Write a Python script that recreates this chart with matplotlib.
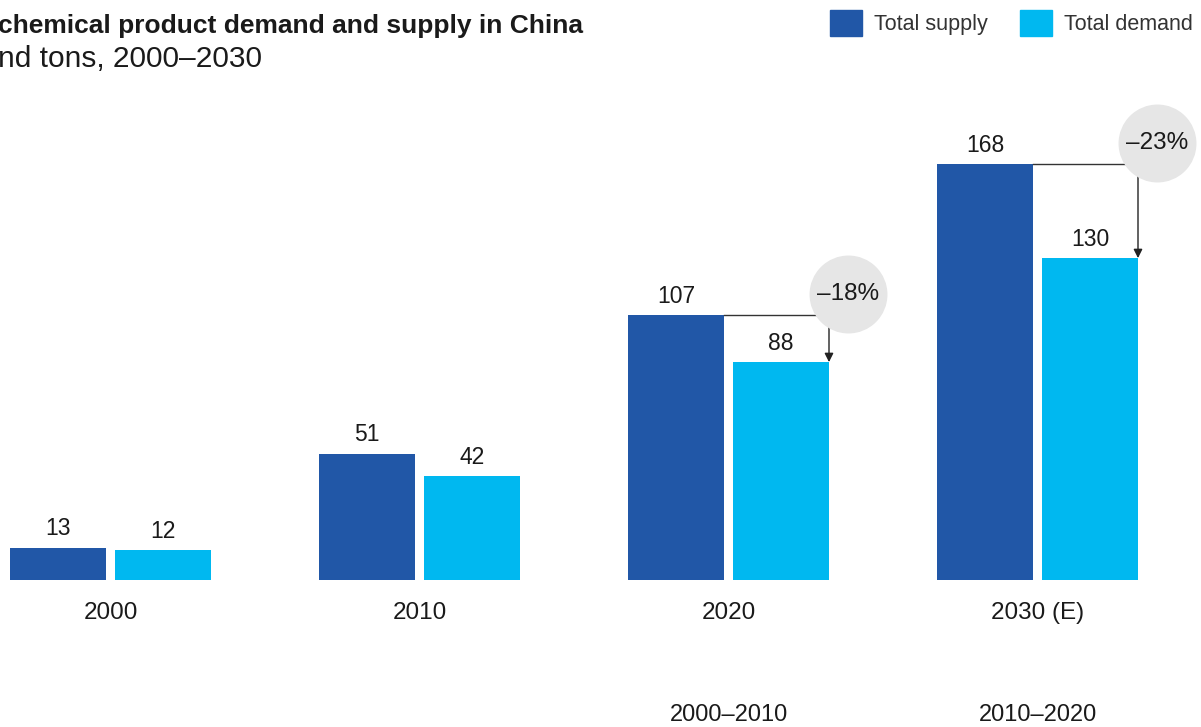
import numpy as np
import matplotlib.pyplot as plt
from matplotlib.patches import Patch

plt.rcParams['font.family'] = ['Liberation Sans', 'DejaVu Sans']

# data
years = ["2000", "2010", "2020", "2030 (E)"]
supply = [13, 51, 107, 168]
demand = [12, 42, 88, 130]
gap_idx = [2, 3]
gap_labels = ["\u201318%", "\u201323%"]
period_idx = [2, 3]
period_labels = ["2000\u20132010", "2010\u20132020"]

dark_blue = "#2157a7"
cyan = "#00b8f0"
ink = "#1a1a1a"

W, H = 1201, 727
fig = plt.figure(figsize=(W / 100, H / 100), dpi=100)
ax = fig.add_axes([0, 0, 1, 1])
ax.axis("off")

# scale: one group = 309 px, 1 unit = 2.476 px, baseline 147 px from bottom
gs = 309.0
ppu = 2.476
ax.set_xlim(-110.5 / gs, (W - 110.5) / gs)
ax.set_ylim(-(H - 580) / ppu, 580 / ppu)

x = np.arange(len(years))
bw = 96 / gs
off = 52.5 / gs

ax.bar(x - off, supply, bw, color=dark_blue, label="Total supply")
ax.bar(x + off, demand, bw, color=cyan, label="Total demand")

for xi, s, d in zip(x, supply, demand):
    ax.annotate(str(s), (xi - off, s), xytext=(0, 9), textcoords="offset points",
                ha="center", va="baseline", fontsize=16.5, color=ink)
    ax.annotate(str(d), (xi + off, d), xytext=(0, 9), textcoords="offset points",
                ha="center", va="baseline", fontsize=16.5, color=ink)

for xi, lab in zip(x, years):
    ax.annotate(lab, (xi, 0), xytext=(0, -23.5), textcoords="offset points",
                ha="center", va="center", fontsize=17.5, color=ink)

# gap markers
for i, lab in zip(gap_idx, gap_labels):
    x_left = i - off + bw / 2
    x_arr = i + off + bw / 2
    ax.plot([x_left, x_arr], [supply[i], supply[i]], color="#333333", lw=1.0, zorder=3)
    ax.annotate("", xy=(x_arr, demand[i]), xytext=(x_arr, supply[i]),
                arrowprops=dict(arrowstyle="-|>", color="#222222", lw=1.0,
                                mutation_scale=13, shrinkA=0, shrinkB=0), zorder=3)
    cx = x_arr + 19 / gs
    cy = supply[i] + 21 / ppu
    ax.scatter([cx], [cy], s=3150, color="#e6e6e6", zorder=4, linewidths=0)
    ax.text(cx, cy, lab, ha="center", va="center", fontsize=17.5, color=ink, zorder=5)

for i, lab in zip(period_idx, period_labels):
    ax.annotate(lab, (i, 0), xytext=(0, -97.5), textcoords="offset points",
                ha="center", va="center", fontsize=17, color=ink)

fig.text(-2 / W, 1 - 26 / H, "chemical product demand and supply in China",
         ha="left", va="center", fontsize=19, fontweight="bold", color=ink)
fig.text(-2 / W, 1 - 59 / H, "nd tons, 2000\u20132030",
         ha="left", va="center", fontsize=21.5, color=ink)

handles = [Patch(color=dark_blue, label="Total supply"),
           Patch(color=cyan, label="Total demand")]
fig.legend(handles=handles, loc="upper left", bbox_to_anchor=(830 / W, 1 - 10 / H),
           ncol=2, frameon=False, fontsize=15.5, borderpad=0, borderaxespad=0,
           handlelength=1.49, handleheight=1.49, handletextpad=0.55,
           columnspacing=1.5, labelcolor="#333333")

fig.savefig("out.png", dpi=100)
